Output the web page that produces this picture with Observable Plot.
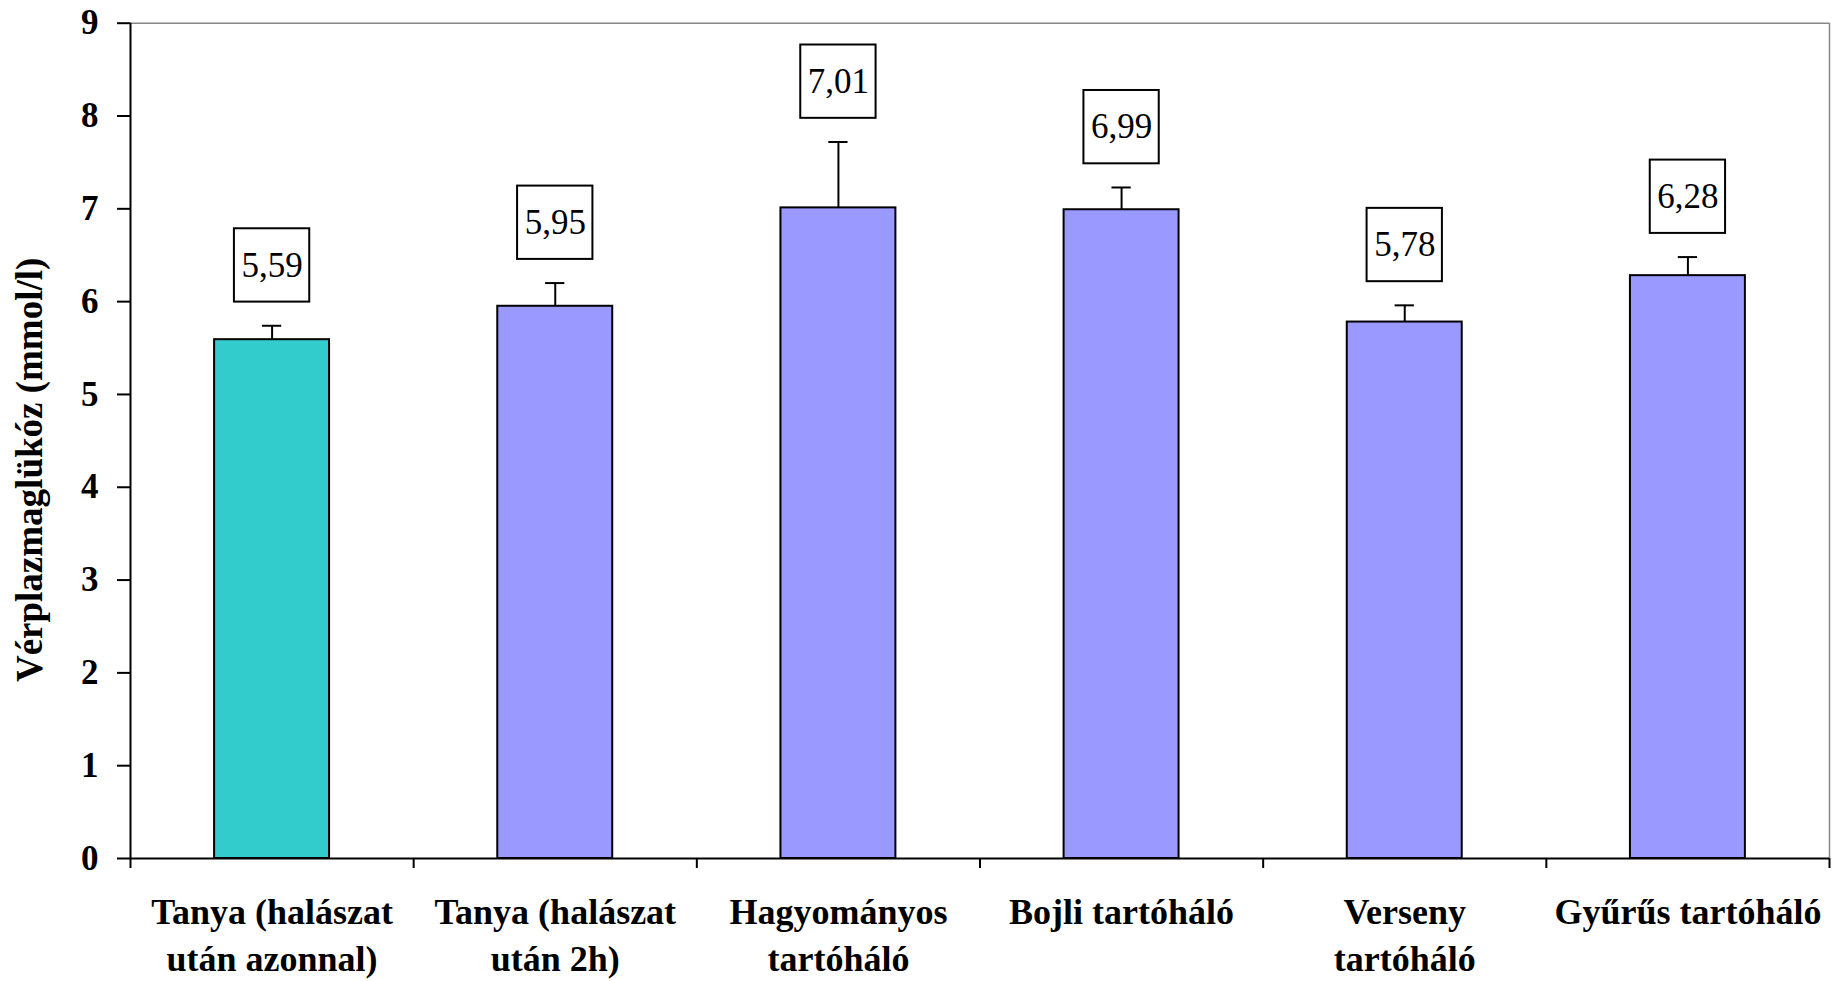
<!DOCTYPE html>
<html><head><meta charset="utf-8">
<script src="https://cdn.jsdelivr.net/npm/d3@7"></script>
<script src="https://cdn.jsdelivr.net/npm/@observablehq/plot@0.6"></script>
<style>body{margin:0;background:#fff} svg{display:block}</style>
</head><body><div id="chart"></div>
<script>
const categories = ["Tanya (halászat\nután azonnal)", "Tanya (halászat\nután 2h)", "Hagyományos\ntartóháló", "Bojli tartóháló", "Verseny\ntartóháló", "Gyűrűs tartóháló"];
const means = [5.59, 5.95, 7.01, 6.99, 5.78, 6.28];
const errors = [0.15, 0.25, 0.71, 0.24, 0.18, 0.20];
const groups = ["azonnal", "tartás", "tartás", "tartás", "tartás", "tartás"];
const groupDomain = ["azonnal", "tartás"];
const groupColors = ["#33CCCC", "#9999FF"];
const yTicks = [0, 1, 2, 3, 4, 5, 6, 7, 8, 9];
const yTitle = "Vérplazmaglükóz (mmol/l)";

const data = categories.map((c, i) => ({i, c, mean: means[i], err: errors[i], group: groups[i]}));
const half = 0.203, cap = 0.034, boxW = 0.133, boxH = 0.395, boxOff = 0.65;
const labelC = d => d.mean + d.err + boxOff;
const font = "Liberation Serif";

const chart = Plot.plot({
  width: 1833, height: 981,
  marginLeft: 130, marginRight: 4, marginTop: 22.7, marginBottom: 123,
  style: {fontFamily: font, color: "black", background: "white", overflow: "visible"},
  x: {domain: [0, categories.length], axis: null},
  y: {domain: [0, 9], axis: null},
  color: {domain: groupDomain, range: groupColors},
  marks: [
    Plot.ruleY([9], {stroke: "#888", strokeWidth: 1.5}),
    Plot.ruleX([categories.length], {stroke: "#888", strokeWidth: 1.5}),
    Plot.rectY(data, {x1: d => d.i + 0.5 - half, x2: d => d.i + 0.5 + half, y: "mean", fill: "group", stroke: "black", strokeWidth: 2}),
    Plot.ruleX(data, {x: d => d.i + 0.5, y1: "mean", y2: d => d.mean + d.err, stroke: "black", strokeWidth: 2}),
    Plot.ruleY(data, {y: d => d.mean + d.err, x1: d => d.i + 0.5 - cap, x2: d => d.i + 0.5 + cap, stroke: "black", strokeWidth: 2}),
    Plot.rect(data, {x1: d => d.i + 0.5 - boxW, x2: d => d.i + 0.5 + boxW, y1: d => labelC(d) - boxH, y2: d => labelC(d) + boxH, fill: "white", stroke: "black", strokeWidth: 2}),
    Plot.text(data, {x: d => d.i + 0.5, y: labelC, text: d => d.mean.toFixed(2).replace(".", ","), fontSize: 35, fill: "black"}),
    Plot.axisY({ticks: yTicks, tickSize: 13, tickPadding: 19, fontSize: 35, fontWeight: "bold", label: null, strokeWidth: 2, tickFormat: d => String(d)}),
    Plot.axisX({ticks: d3.range(0, categories.length + 1), tickSize: 10, tickFormat: () => "", strokeWidth: 2, label: null}),
    Plot.ruleX([0], {stroke: "black", strokeWidth: 2}),
    Plot.ruleY([0], {stroke: "black", strokeWidth: 2}),
    Plot.text(data, {x: d => d.i + 0.5, y: 0, text: "c", dy: 32, lineAnchor: "top", fontSize: 36, fontWeight: "bold", lineHeight: 1.3, fill: "black"}),
    Plot.text([yTitle], {frameAnchor: "left", textAnchor: "middle", rotate: -90, dx: -100, dy: 29, fontSize: 37, fontWeight: "bold", fill: "black"})
  ]
});
document.getElementById("chart").append(chart);
</script>
</body></html>
